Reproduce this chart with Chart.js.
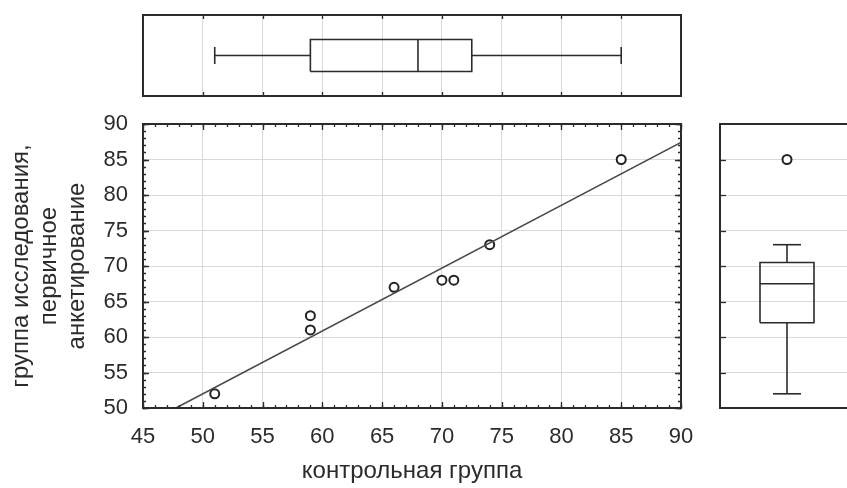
<!DOCTYPE html>
<html>
<head>
<meta charset="utf-8">
<script src="https://cdn.jsdelivr.net/npm/chart.js@4.4.1/dist/chart.umd.min.js"></script>
<style>
  html, body { margin: 0; padding: 0; background: #fff; }
  #wrap { position: relative; width: 847px; height: 488px; overflow: hidden; }
  #wrap canvas { position: absolute; left: 0; top: 0; }
</style>
</head>
<body>
<div id="wrap">
  <canvas id="mainChart" width="847" height="488"></canvas>
  <canvas id="topBox" width="847" height="488"></canvas>
  <canvas id="rightBox" width="847" height="488"></canvas>
</div>
<script>
// Данные: контрольная группа (x) и группа исследования (y)
const controlX = [51, 59, 59, 66, 70, 71, 74, 85];
const studyY = [52, 61, 63, 67, 68, 68, 73, 85];

// Линия регрессии (концы отрезка)
const fitX = [47.75, 90];
const fitY = [50, 87.4];

// Диаграммы размаха: min, Q1, медиана, Q3, max
const boxX = [51, 59, 68, 72.5, 85];
const boxY = [52, 62, 67.5, 70.5, 73];
const outliersY = [85];

// Подписи осей
const xTitle = 'контрольная группа';
const yTitle = ['группа исследования,', 'первичное', 'анкетирование'];

const FONT = "'Liberation Sans Narrow', 'Liberation Sans', Arial, sans-serif";
const INK = '#2b2b2b';
const GRID = '#d9d9d9';

// рамка и внутренние засечки
const framePlugin = {
  id: 'frame',
  afterDraw(chart, args, opts) {
    const { ctx, chartArea: a, scales } = chart;
    ctx.save();
    ctx.strokeStyle = INK;
    ctx.lineWidth = 1.3;
    (opts.marks || []).forEach(m => {
      const s = scales[m.scale];
      for (let v = m.from; v <= m.to + 1e-9; v += m.step) {
        const p = Math.round(s.getPixelForValue(v)) + 0.5;
        ctx.beginPath();
        m.sides.forEach(side => {
          if (side === 'top') { ctx.moveTo(p, a.top); ctx.lineTo(p, a.top + m.len); }
          if (side === 'bottom') { ctx.moveTo(p, a.bottom); ctx.lineTo(p, a.bottom - m.len); }
          if (side === 'left') { ctx.moveTo(a.left, p); ctx.lineTo(a.left + m.len, p); }
          if (side === 'right') { ctx.moveTo(a.right, p); ctx.lineTo(a.right - m.len, p); }
        });
        ctx.stroke();
      }
    });
    ctx.lineWidth = 2;
    const w = opts.openRight ? a.right - a.left + 20 : a.right - a.left;
    ctx.strokeRect(a.left, a.top, w, a.bottom - a.top);
    ctx.restore();
  }
};

function seg(x1, y1, x2, y2) {
  return {
    data: [{ x: x1, y: y1 }, { x: x2, y: y2 }],
    showLine: true, pointRadius: 0, borderColor: INK, borderWidth: 1.6
  };
}

// ---------- основной график рассеяния ----------
new Chart(document.getElementById('mainChart'), {
  type: 'scatter',
  data: {
    datasets: [
      {
        data: fitX.map((x, i) => ({ x, y: fitY[i] })),
        showLine: true, pointRadius: 0, borderColor: '#4a4a4a', borderWidth: 1.6
      },
      {
        data: controlX.map((x, i) => ({ x, y: studyY[i] })),
        pointRadius: 4.5, borderWidth: 2, borderColor: '#222', backgroundColor: '#fff'
      }
    ]
  },
  options: {
    responsive: false, animation: false, events: [],
    layout: { autoPadding: false, padding: { left: 0, top: 124, right: 166, bottom: 0 } },
    plugins: {
      legend: { display: false }, tooltip: { enabled: false },
      frame: {
        marks: [
          { scale: 'x', from: 45, to: 90, step: 5, len: 6, sides: ['top', 'bottom'] },
          { scale: 'x', from: 45, to: 90, step: 1, len: 3, sides: ['top', 'bottom'] },
          { scale: 'y', from: 50, to: 90, step: 5, len: 6, sides: ['left', 'right'] },
          { scale: 'y', from: 50, to: 90, step: 1, len: 3, sides: ['left', 'right'] }
        ]
      }
    },
    scales: {
      x: {
        type: 'linear', min: 45, max: 90,
        afterFit: s => { s.height = 80; },
        border: { display: false },
        grid: { color: GRID, drawTicks: false },
        ticks: { stepSize: 5, padding: 16, color: INK, font: { family: FONT, size: 22 } },
        title: { display: true, text: xTitle, color: INK, padding: { top: 0, bottom: 2 }, font: { family: FONT, size: 24 } }
      },
      y: {
        type: 'linear', min: 50, max: 90,
        afterFit: s => { s.width = 143; },
        border: { display: false },
        grid: { color: GRID, drawTicks: false },
        ticks: { stepSize: 5, padding: 15, color: INK, font: { family: FONT, size: 22 } },
        title: { display: true, text: yTitle, color: INK, padding: { top: 7, bottom: 0 }, font: { family: FONT, size: 24, lineHeight: 1.17 } }
      }
    }
  },
  plugins: [framePlugin]
});

// ---------- верхняя диаграмма размаха (контрольная группа) ----------
const [xMin, xQ1, xMed, xQ3, xMax] = boxX;
new Chart(document.getElementById('topBox'), {
  type: 'scatter',
  data: {
    datasets: [
      {
        data: [{ x: xQ1, y: -16 }, { x: xQ3, y: -16 }, { x: xQ3, y: 16 }, { x: xQ1, y: 16 }, { x: xQ1, y: -16 }],
        showLine: true, pointRadius: 0, borderColor: INK, borderWidth: 1.6
      },
      seg(xMed, -16, xMed, 16),
      seg(xMin, 0, xQ1, 0),
      seg(xQ3, 0, xMax, 0),
      seg(xMin, -8.5, xMin, 8.5),
      seg(xMax, -8.5, xMax, 8.5)
    ]
  },
  options: {
    responsive: false, animation: false, events: [],
    layout: { autoPadding: false, padding: { left: 143, top: 15, right: 166, bottom: 392 } },
    plugins: {
      legend: { display: false }, tooltip: { enabled: false },
      frame: { marks: [{ scale: 'x', from: 50, to: 85, step: 5, len: 4, sides: ['top', 'bottom'] }] }
    },
    scales: {
      x: {
        type: 'linear', min: 45, max: 90,
        afterFit: s => { s.height = 0; },
        border: { display: false },
        grid: { color: GRID, drawTicks: false },
        ticks: { display: false, stepSize: 5 }
      },
      y: { type: 'linear', min: -40.5, max: 40.5, display: false }
    }
  },
  plugins: [framePlugin]
});

// ---------- правая диаграмма размаха (группа исследования) ----------
const [yMin, yQ1, yMed, yQ3, yMax] = boxY;
new Chart(document.getElementById('rightBox'), {
  type: 'scatter',
  data: {
    datasets: [
      {
        data: [{ x: -27, y: yQ1 }, { x: 27, y: yQ1 }, { x: 27, y: yQ3 }, { x: -27, y: yQ3 }, { x: -27, y: yQ1 }],
        showLine: true, pointRadius: 0, borderColor: INK, borderWidth: 1.6
      },
      seg(-27, yMed, 27, yMed),
      seg(0, yMin, 0, yQ1),
      seg(0, yQ3, 0, yMax),
      seg(-14, yMin, 14, yMin),
      seg(-14, yMax, 14, yMax),
      {
        data: outliersY.map(y => ({ x: 0, y })),
        pointRadius: 4.5, borderWidth: 2, borderColor: '#222', backgroundColor: '#fff'
      }
    ]
  },
  options: {
    responsive: false, animation: false, events: [],
    layout: { autoPadding: false, padding: { left: 720, top: 124, right: 0, bottom: 80 } },
    plugins: {
      legend: { display: false }, tooltip: { enabled: false },
      frame: { openRight: true, marks: [{ scale: 'y', from: 55, to: 85, step: 5, len: 6, sides: ['left'] }] }
    },
    scales: {
      x: { type: 'linear', min: -67, max: 60, display: false },
      y: {
        type: 'linear', min: 50, max: 90,
        afterFit: s => { s.width = 0; },
        border: { display: false },
        grid: { color: GRID, drawTicks: false },
        ticks: { display: false, stepSize: 5 }
      }
    }
  },
  plugins: [framePlugin]
});
</script>
</body>
</html>
